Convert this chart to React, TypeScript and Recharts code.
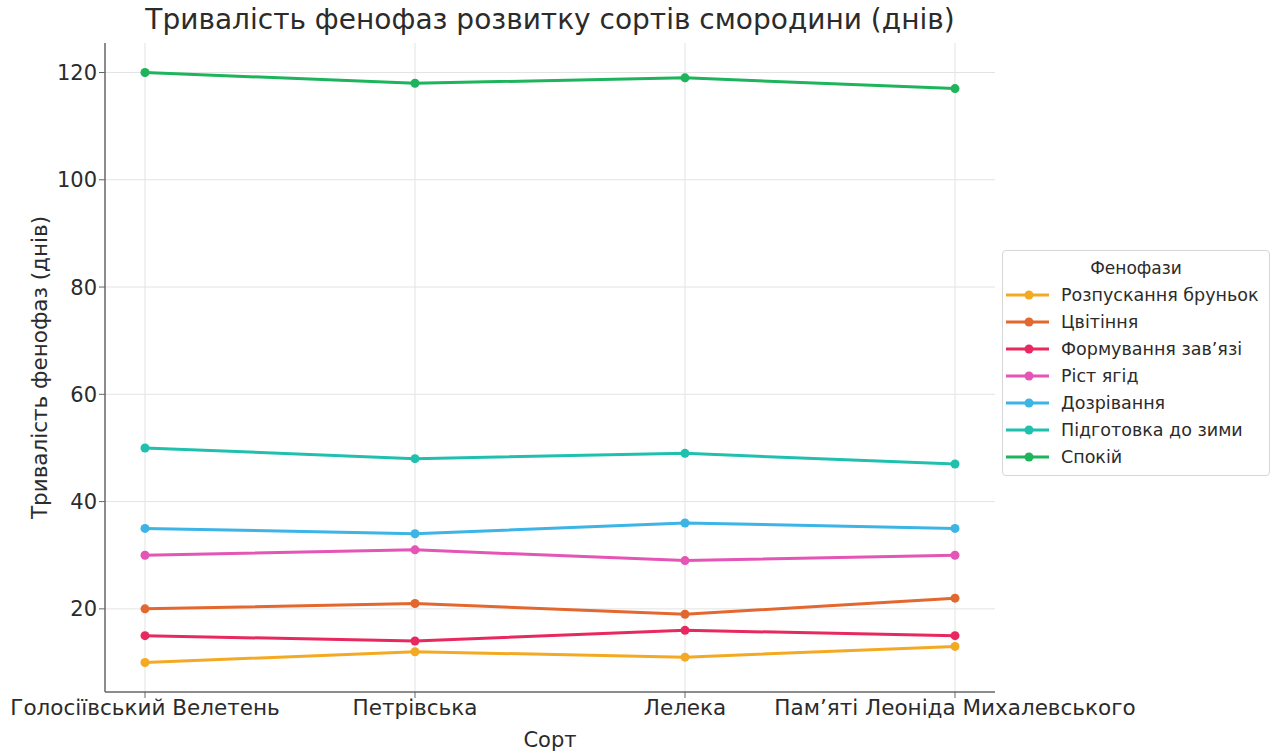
import { Legend, Line, LineChart, ReferenceLine, XAxis, YAxis } from "recharts";

const CATEGORIES = [
  "Голосіївський Велетень",
  "Петрівська",
  "Лелека",
  "Пам’яті Леоніда Михалевського",
];

const BUD_BREAK = [10, 12, 11, 13];
const FLOWERING = [20, 21, 19, 22];
const FRUIT_SET = [15, 14, 16, 15];
const BERRY_GROWTH = [30, 31, 29, 30];
const RIPENING = [35, 34, 36, 35];
const WINTER_PREP = [50, 48, 49, 47];
const DORMANCY = [120, 118, 119, 117];

const Y_TICKS = [20, 40, 60, 80, 100, 120];

const SERIES = [
  { key: "bud", name: "Розпускання бруньок", color: "#f4a922", values: BUD_BREAK },
  { key: "flower", name: "Цвітіння", color: "#e2682f", values: FLOWERING },
  { key: "set", name: "Формування зав’язі", color: "#e8295f", values: FRUIT_SET },
  { key: "growth", name: "Ріст ягід", color: "#e455b6", values: BERRY_GROWTH },
  { key: "ripe", name: "Дозрівання", color: "#3cb4e6", values: RIPENING },
  { key: "winter", name: "Підготовка до зими", color: "#20c0ae", values: WINTER_PREP },
  { key: "rest", name: "Спокій", color: "#1db45c", values: DORMANCY },
];

const rows = CATEGORIES.map((label, i) => {
  const row: Record<string, string | number> = { label };
  SERIES.forEach((s) => {
    row[s.key] = s.values[i];
  });
  return row;
});

const FONT = "'DejaVu Sans', sans-serif";
const TEXT = "#2b2b2b";
const GRID = "#e3e3e3";

function LegendBox() {
  return (
    <div
      style={{
        width: 268,
        border: "1px solid #d6d6d6",
        borderRadius: 4,
        background: "#fff",
        fontFamily: FONT,
        color: TEXT,
        padding: "7px 0 5px 0",
        boxSizing: "border-box",
      }}
    >
      <div style={{ textAlign: "center", fontSize: 17, marginBottom: 3 }}>Фенофази</div>
      {SERIES.map((s) => (
        <div
          key={s.key}
          style={{ display: "flex", alignItems: "center", height: 27, fontSize: 17.5, whiteSpace: "nowrap" }}
        >
          <svg width={58} height={12} style={{ flex: "none" }}>
            <line x1={3} y1={6} x2={46} y2={6} stroke={s.color} strokeWidth={3} />
            <circle cx={26} cy={6} r={4.5} fill={s.color} />
          </svg>
          <span>{s.name}</span>
        </div>
      ))}
    </div>
  );
}

export default function App() {
  return (
    <div style={{ position: "absolute", left: 0, top: 0, width: 1275, height: 751, background: "#fff" }}>
      <div
        style={{
          position: "absolute",
          left: 0,
          width: 1100,
          top: 3,
          textAlign: "center",
          fontFamily: FONT,
          fontSize: 28,
          color: TEXT,
          whiteSpace: "nowrap",
        }}
      >
        Тривалість фенофаз розвитку сортів смородини (днів)
      </div>
      <LineChart
        width={1275}
        height={751}
        data={rows}
        margin={{ top: 43, right: 280, bottom: 0, left: 0 }}
        style={{ fontFamily: FONT }}
      >
        <XAxis
          dataKey="label"
          type="category"
          interval={0}
          height={59}
          padding={{ left: 40, right: 40 }}
          tick={{ fontSize: 21.5, fill: TEXT }}
          tickSize={6}
          axisLine={{ stroke: "#666", strokeWidth: 1.5 }}
          tickLine={{ stroke: "#666" }}
          label={{ value: "Сорт", position: "insideBottom", offset: 4, fontSize: 21, fill: TEXT }}
        />
        <YAxis
          type="number"
          domain={[4.5, 125.5]}
          ticks={Y_TICKS}
          width={105}
          tick={{ fontSize: 21, fill: TEXT }}
          tickSize={6}
          axisLine={{ stroke: "#666", strokeWidth: 1.5 }}
          tickLine={{ stroke: "#666" }}
          label={{
            value: "Тривалість фенофаз (днів)",
            angle: -90,
            position: "center",
            dx: -13,
            fontSize: 21.5,
            fill: TEXT,
          }}
        />
        {Y_TICKS.map((t) => (
          <ReferenceLine key={`y${t}`} y={t} stroke={GRID} strokeWidth={1} />
        ))}
        {CATEGORIES.map((c) => (
          <ReferenceLine key={`x${c}`} x={c} stroke={GRID} strokeWidth={1} />
        ))}
        <Legend
          layout="vertical"
          align="center"
          verticalAlign="middle"
          wrapperStyle={{ left: 1002, top: 250, width: 268 }}
          content={() => <LegendBox />}
        />
        {SERIES.map((s) => (
          <Line
            key={s.key}
            type="linear"
            dataKey={s.key}
            name={s.name}
            stroke={s.color}
            strokeWidth={3}
            dot={{ r: 4.5, fill: s.color, stroke: s.color, strokeWidth: 0 }}
            activeDot={false}
            isAnimationActive={false}
          />
        ))}
      </LineChart>
    </div>
  );
}
